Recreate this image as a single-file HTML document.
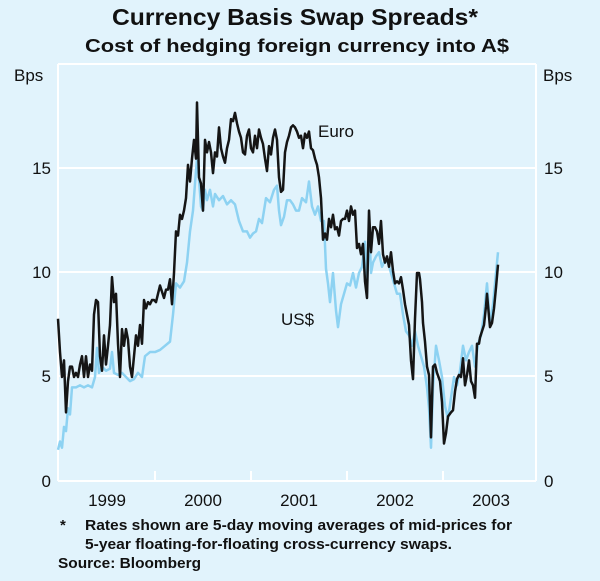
<!DOCTYPE html>
<html><head><style>
body{margin:0;background:#fff}
svg{display:block;font-family:"Liberation Sans",Arial,sans-serif}
</style></head><body>
<svg width="600" height="581" viewBox="0 0 600 581">
<rect width="600" height="581" fill="#e1f3fc"/>
<text x="112" y="25" font-size="23" font-weight="bold" fill="#111" textLength="366" lengthAdjust="spacingAndGlyphs">Currency Basis Swap Spreads*</text>
<text x="85" y="52" font-size="18" font-weight="bold" fill="#111" textLength="424" lengthAdjust="spacingAndGlyphs">Cost of hedging foreign currency into A$</text>
<g stroke="#fff" stroke-width="2">
<line x1="58" y1="64" x2="536" y2="64"/>
<line x1="58" y1="168" x2="536" y2="168"/>
<line x1="58" y1="272" x2="536" y2="272"/>
<line x1="58" y1="376" x2="536" y2="376"/>
<line x1="58" y1="481" x2="536" y2="481"/>
<line x1="58" y1="64" x2="58" y2="481"/>
<line x1="536" y1="64" x2="536" y2="481"/>
<line x1="155" y1="471" x2="155" y2="481"/>
<line x1="251" y1="471" x2="251" y2="481"/>
<line x1="347" y1="471" x2="347" y2="481"/>
<line x1="443" y1="471" x2="443" y2="481"/>
</g>
<g font-size="17" fill="#111">
<text x="14" y="81">Bps</text><text x="543" y="81">Bps</text>
<text x="51" y="174" text-anchor="end">15</text>
<text x="51" y="278" text-anchor="end">10</text>
<text x="51" y="382" text-anchor="end">5</text>
<text x="51" y="487" text-anchor="end">0</text>
<text x="544" y="174">15</text>
<text x="544" y="278">10</text>
<text x="544" y="382">5</text>
<text x="544" y="487">0</text>
<text x="318" y="137">Euro</text>
<text x="281" y="325">US$</text>
</g>
<g font-size="17" fill="#111" text-anchor="middle">
<text x="107" y="506">1999</text>
<text x="203" y="506">2000</text>
<text x="299" y="506">2001</text>
<text x="395" y="506">2002</text>
<text x="491" y="506">2003</text>
</g>
<g transform="translate(0,481) scale(1,-20.8)" fill="none" stroke-linejoin="round">
<polyline vector-effect="non-scaling-stroke" stroke="#8dd2f2" stroke-width="2.5" points="58,1.5 60,1.9 62,1.6 64,2.6 66,2.4 68,3.5 70,3.2 72,4.5 76,4.5 80,4.6 84,4.5 88,4.6 92,4.5 95,5 97,6.4 99,5.2 102,5.5 106,5.3 110,5.4 112,6.2 114,5.2 118,5.1 122,5.2 126,5 130,4.8 134,4.9 138,5.2 142,5 145,6 150,6.2 155,6.2 160,6.3 165,6.5 170,6.7 173,8 176,9.5 180,9.3 184,9.6 187,10.5 190,12 193,13 195,14.3 197,15.5 199,14.5 201,13.2 203,13 205,14 207,13.5 210,14 213,13.2 215,13.8 219,13.5 223,13.7 227,13.3 231,13.5 235,13.3 239,12.5 243,12 247,12 250,11.7 253,11.9 256,12 259,12.6 262,12.4 266,13.6 270,13.4 274,14 277,14.2 279,13 281,12.3 284,12.7 287,13.5 290,13.5 293,13.3 296,13 299,13 302,13.6 306,13.4 309,14.4 312,13.2 315,12.8 318,13.2 321,12.5 324,12.5 326,10.2 328,9.5 330,8.6 333,10 336,8.2 338,7.4 341,8.5 344,9 347,9.5 350,9.4 353,10 356,9.3 359,10 362,10.3 365,11.5 367,9 369,12.5 371,10 373,10.5 376,10.8 379,11 382,10.3 385,10.6 388,10.5 391,10 394,9.5 397,9 400,9 403,8 406,7.2 409,7 412,6.5 415,7.2 418,6.5 421,6 424,5.5 427,4.5 429,3.5 431,1.6 433,4.5 436,6.5 439,5.8 442,5 445,3.6 448,3 451,4 454,5 457,4.6 460,5.3 463,6.5 466,5.8 469,6.2 472,6.5 475,5.5 478,6.6 481,7 484,8 487,9.5 490,7.5 493,8.5 496,10 498,11"/>
<polyline vector-effect="non-scaling-stroke" stroke="#151515" stroke-width="2.5" points="58,7.8 60,6.2 62,5 64,5.8 66,3.3 68,4.8 70,5.5 72,5.5 74,5 76,5.2 78,5 80,5.6 82,6 84,5 86,6 88,5 90,5.6 92,5.3 94,8 96,8.7 98,8.6 100,6 102,5.3 104,7 106,5.6 108,6.5 110,7.5 112,9.8 114,8.6 116,9 118,6.6 120,5 122,7.3 124,6.5 126,7.3 128,6.8 130,5.5 132,5 134,6 136,7 138,6.5 140,7.5 142,6.6 144,8.7 146,8.3 148,8.6 150,8.5 152,8.7 154,8.7 156,8.6 158,9 160,9.4 162,9.1 164,8.8 166,9.2 168,9.2 170,9.7 172,8.5 174,10 176,12 178,11.8 180,12.8 182,12.6 184,13 186,13.6 188,15.2 190,14.4 192,15.5 194,16.4 196,15.5 197,18.2 199,14.6 201,14.3 203,13 205,16.4 207,15.8 209,16.3 211,15.8 213,14.8 215,15.8 217,15.6 219,17 221,16 223,15.6 225,15.3 227,16 229,16.4 231,17.4 233,17.3 235,17.7 237,17.2 239,16.8 241,16.5 243,15.8 245,15.7 247,16.6 249,16.9 251,16 253,15.8 255,16.6 257,16 259,16.9 261,16.5 263,16.2 265,15.5 267,14.9 269,16.1 271,15.7 273,16.5 275,16.9 277,16.4 279,14.6 281,13.9 283,14 285,15.8 287,16.3 289,16.6 291,17 293,17.1 295,17 297,16.8 299,16.5 301,16.6 303,16 305,16.7 307,16.5 309,16.8 311,16 313,15.9 315,15.5 317,15.2 319,14.6 321,13.6 323,11.6 325,11.9 327,11.6 329,12.6 331,12.2 333,12.8 335,12.1 337,12.2 339,11.8 341,12.5 343,12.6 345,12.6 347,13 349,12.5 351,13.2 353,12.8 355,13 357,11.2 359,11.4 361,10.9 363,11.4 365,9.6 367,8.8 369,13 371,11 373,12.2 375,12.2 377,12 379,11.4 381,12.5 383,10.9 385,10.5 387,10.8 389,10.3 391,11 393,10.1 395,9.5 397,9.6 399,9.5 401,9.8 403,9.2 405,8.5 407,8 409,7.5 411,5.8 413,4.9 415,7.8 417,10 419,10 420,9.7 422,8.6 423,7.6 425,6.7 427,5.5 429,5.1 431,2.1 433,5.5 435,5.6 437,5.2 440,4.8 442,3.8 444,1.8 446,2.3 448,3.1 451,3.3 453,3.4 455,4.3 457,4.9 459,5.1 461,5 463,5.9 465,4.6 467,5.1 469,5.8 471,4.8 473,4.6 475,4 477,6.6 479,6.6 480,6.9 482,7.2 484,7.5 486,8.4 487,9 489,7.9 490,7.4 492,7.6 494,8.3 496,9.3 498,10.4"/>
</g>
<g font-size="15" font-weight="bold" fill="#111">
<text x="60" y="530">*</text>
<text x="85" y="530" textLength="427" lengthAdjust="spacingAndGlyphs">Rates shown are 5-day moving averages of mid-prices for</text>
<text x="85" y="549" textLength="367" lengthAdjust="spacingAndGlyphs">5-year floating-for-floating cross-currency swaps.</text>
<text x="58" y="568" textLength="143" lengthAdjust="spacingAndGlyphs">Source: Bloomberg</text>
</g>
</svg>
</body></html>
